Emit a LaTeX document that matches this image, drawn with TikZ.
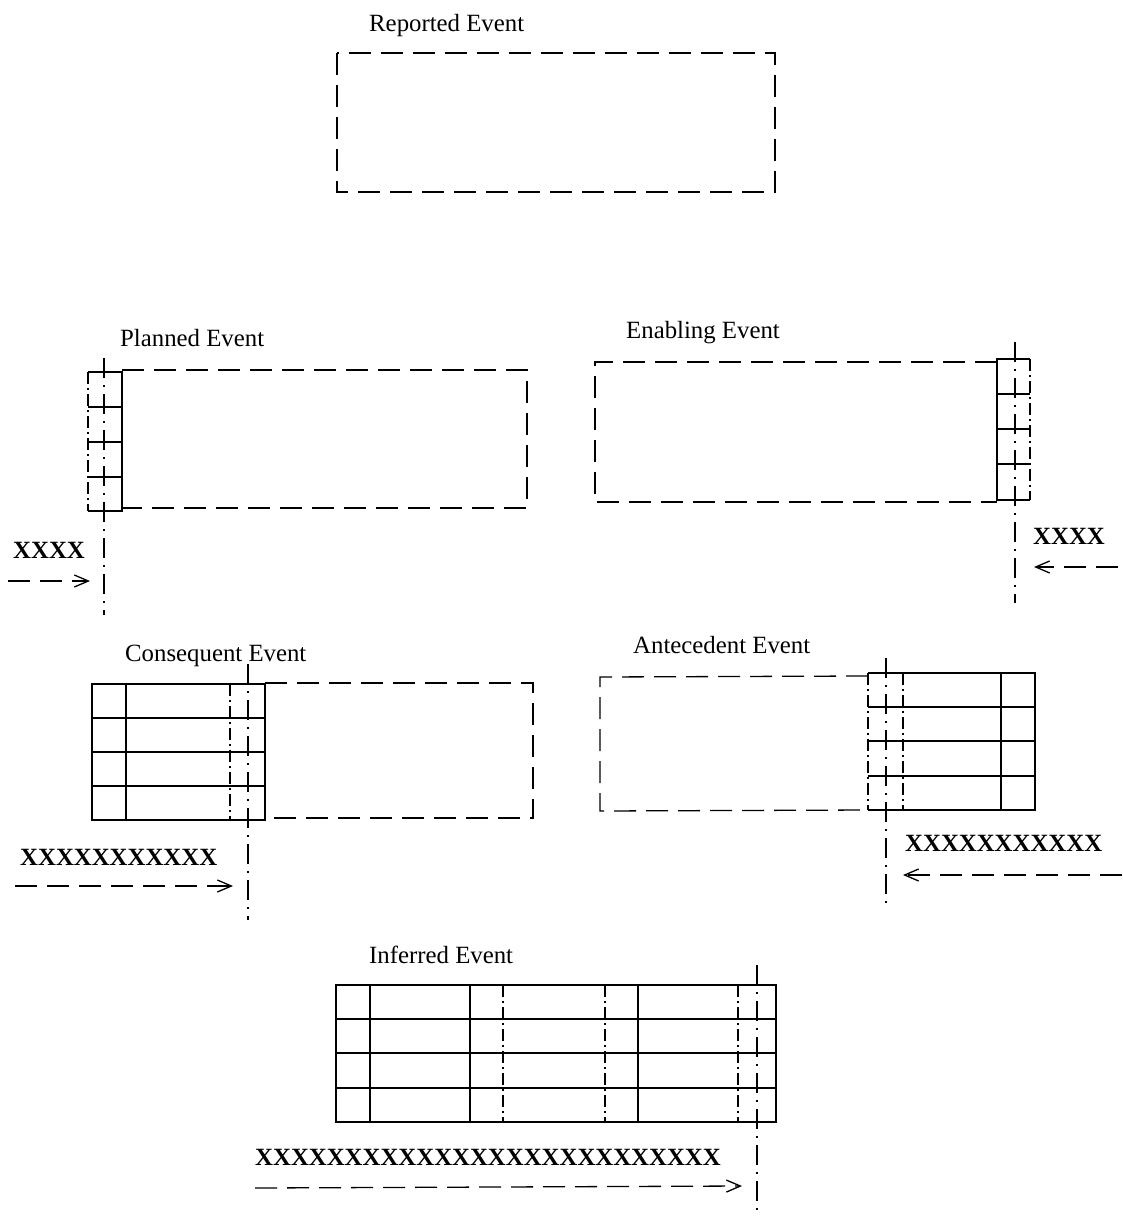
\documentclass[tikz,border=0pt]{standalone}
\usepackage{fontspec}
\setmainfont{Liberation Serif}
\usetikzlibrary{arrows.meta}
\begin{document}
\begin{tikzpicture}[x=1pt,y=-1pt,
  lbl/.style={anchor=base west,inner sep=0pt,font=\fontsize{24.8}{30}\selectfont},
  xlbl/.style={lbl,font=\fontsize{24.8}{30}\selectfont\bfseries},
  evbox/.style={line width=1.3pt,dash pattern=on 22pt off 10pt},
  cell/.style={line width=1.3pt},
  dcell/.style={line width=1.3pt,dash pattern=on 12pt off 4pt on 2pt off 4pt},
  marker/.style={line width=1.3pt,dash pattern=on 20pt off 7pt on 2pt off 7pt},
  arr/.style={line width=1.3pt,dash pattern=on 22pt off 10pt,-{Straight Barb[length=14pt,width=12pt]}}]
\useasboundingbox[fill=white] (0,0) rectangle (1123,1220);

% Reported Event
\node[lbl] (repL) at (369,32) {Reported Event};
\draw[evbox] (337,53) rectangle (775,192);

% Planned Event
\node[lbl] (plaL) at (120,346) {Planned Event};
\draw[evbox] (122,370) -- (527,370) -- (527,508) -- (122,508);
\draw[dcell] (88,372) -- (88,511);
\draw[cell] (88,372) -- (122,372) -- (122,511) -- (88,511);
\foreach \y in {407,442,477} \draw[cell] (88,\y) -- (122,\y);
\draw[marker] (104,358) -- (104,615);
\node[xlbl] (plaX) at (13,558) {XXXX};
\coordinate (plaA1) at (8,581);
\coordinate (plaA2) at (90,581);
\draw[arr] (plaA1) -- (plaA2);

% Enabling Event
\node[lbl] (enaL) at (626,338) {Enabling Event};
\draw[evbox] (997,362) -- (595,362) -- (595,502) -- (997,502);
\draw[cell] (1030,359) -- (997,359) -- (997,500) -- (1030,500);
\draw[dcell] (1030,359) -- (1030,500);
\foreach \y in {394,429,464} \draw[cell] (997,\y) -- (1030,\y);
\draw[marker] (1015,342) -- (1015,603);
\node[xlbl] (enaX) at (1033,544) {XXXX};
\coordinate (enaA1) at (1118,567);
\coordinate (enaA2) at (1034,567);
\draw[arr] (enaA1) -- (enaA2);

% Consequent Event
\node[lbl] (conL) at (125,661) {Consequent Event};
\draw[evbox] (265,683) -- (533,683) -- (533,818) -- (265,818);
\draw[cell] (92,684) rectangle (265,820);
\foreach \y in {718,752,786} \draw[cell] (92,\y) -- (265,\y);
\draw[cell] (126,684) -- (126,820);
\draw[dcell] (230,684) -- (230,820);
\draw[marker] (248,664) -- (248,920);
\node[xlbl] (conX) at (20,865) {XXXXXXXXXXX};
\coordinate (conA1) at (15,886);
\coordinate (conA2) at (233,886);
\draw[arr] (conA1) -- (conA2);

% Antecedent Event
\node[lbl] (antL) at (633,653) {Antecedent Event};
\draw[evbox] (868,676) -- (600,677) -- (600,811) -- (868,810);
\draw[cell] (868,673) -- (1035,673) -- (1035,810) -- (868,810);
\draw[dcell] (868,673) -- (868,810);
\foreach \y in {707,741,776} \draw[cell] (868,\y) -- (1035,\y);
\draw[dcell] (903,673) -- (903,810);
\draw[cell] (1001,673) -- (1001,810);
\draw[marker] (886,658) -- (886,910);
\node[xlbl] (antX) at (905,851) {XXXXXXXXXXX};
\coordinate (antA1) at (1122,875);
\coordinate (antA2) at (903,875);
\draw[arr] (antA1) -- (antA2);

% Inferred Event
\node[lbl] (infL) at (369,963) {Inferred Event};
\draw[cell] (336,985) rectangle (776,1122);
\foreach \y in {1019,1053,1088} \draw[cell] (336,\y) -- (776,\y);
\foreach \x in {370,470,638} \draw[cell] (\x,985) -- (\x,1122);
\foreach \x in {503,605,738} \draw[dcell] (\x,985) -- (\x,1122);
\draw[marker] (757,965) -- (757,1215);
\node[xlbl] (infX) at (255,1165) {XXXXXXXXXXXXXXXXXXXXXXXXXX};
\coordinate (infA1) at (255,1188);
\coordinate (infA2) at (742,1186);
\draw[arr] (infA1) -- (infA2);
\end{tikzpicture}
\end{document}
